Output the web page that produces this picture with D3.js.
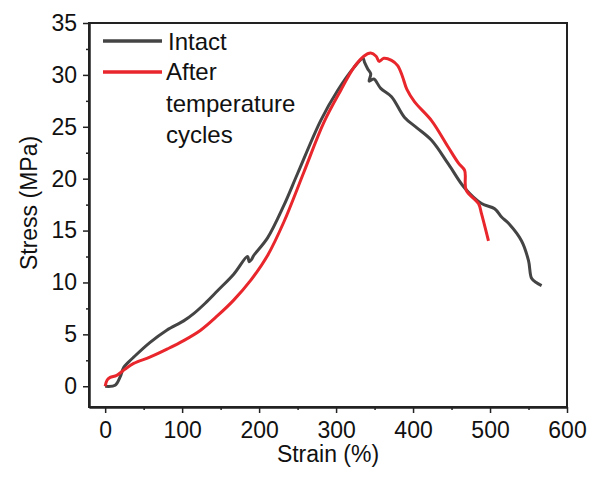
<!DOCTYPE html>
<html>
<head>
<meta charset="utf-8">
<script src="https://cdn.jsdelivr.net/npm/d3@7"></script>
<style>
  body { margin: 0; background: #fff; }
  text { font-family: "Liberation Sans", Arial, sans-serif; fill: #111; }
</style>
</head>
<body>
<div id="chart"></div>
<script>
// stress-strain data
var intactStrain = [0, 13, 19.5, 24, 30, 37, 58, 80, 102, 115, 130, 146, 167, 185, 187, 190, 193, 211, 232, 250, 280, 302, 323, 335,
    337, 341, 345, 343, 349, 358, 372, 389, 405, 424, 446, 467, 489, 506, 515, 524, 541, 550, 554, 560, 567];
var intactStress = [0, 0.1, 0.9, 1.8, 2.3, 2.8, 4.2, 5.4, 6.3, 7, 8, 9.2, 10.8, 12.5, 12, 12.2, 12.6, 14.3, 17.4, 20.5, 25.6, 28.5, 30.7, 31.6,
    31.2, 30.6, 30.1, 29.4, 29.6, 28.7, 27.9, 25.9, 24.9, 23.7, 21.4, 19.1, 17.6, 17.1, 16.3, 15.7, 14, 12.1, 10.4, 10, 9.7];

var afterStrain = [0, 2.6, 6.5, 15, 25, 37, 58, 81, 102, 124, 146, 167, 189, 211, 232, 258, 284, 306, 323, 336, 345, 352, 356, 362, 372,
    380, 386, 392, 402, 424, 446, 459, 467, 469, 485, 489, 498];
var afterStress = [0, 0.6, 0.85, 1.05, 1.6, 2.2, 2.8, 3.6, 4.4, 5.4, 6.8, 8.3, 10.2, 12.6, 15.8, 20.6, 25.4, 28.5, 30.7, 31.8, 32.1, 31.8, 31.3, 31.6, 31.4,
    30.9, 29.9, 28.6, 27.4, 25.6, 23, 21.5, 20.8, 18.9, 17.6, 16.6, 14.0];

var xTicks = [0, 100, 200, 300, 400, 500, 600];
var xMinor = [50, 150, 250, 350, 450, 550];
var yTicks = [0, 5, 10, 15, 20, 25, 30, 35];
var yMinor = [2.5, 7.5, 12.5, 17.5, 22.5, 27.5, 32.5];

var seriesNames = ["Intact", "After", "temperature", "cycles"];
var colors = ["#444444", "#e8262b"];

var svgWidth = 592, svgHeight = 477;
var margin = {top: 23, right: 25, bottom: 70, left: 89};
var width = svgWidth - margin.left - margin.right;
var height = svgHeight - margin.top - margin.bottom;

var svg = d3.select("#chart").append("svg")
    .attr("width", svgWidth)
    .attr("height", svgHeight);

var chartGroup = svg.append("g")
    .attr("transform", `translate(${margin.left}, ${margin.top})`);

var x = d3.scaleLinear().domain([-21, 600]).range([0, width]);
var y = d3.scaleLinear().domain([-2, 35]).range([height, 0]);

// frame
chartGroup.append("rect")
    .attr("width", width).attr("height", height)
    .attr("fill", "none").attr("stroke", "#222").attr("stroke-width", 2);

// axes
chartGroup.append("g").attr("transform", `translate(0, ${height})`)
    .call(d3.axisBottom(x).tickValues(xTicks).tickSize(6).tickPadding(9).tickSizeOuter(0));
chartGroup.append("g").attr("transform", `translate(0, ${height})`)
    .call(d3.axisBottom(x).tickValues(xMinor).tickSize(3).tickFormat("").tickSizeOuter(0));
chartGroup.append("g")
    .call(d3.axisLeft(y).tickValues(yTicks).tickSize(6).tickPadding(6).tickSizeOuter(0));
chartGroup.append("g")
    .call(d3.axisLeft(y).tickValues(yMinor).tickSize(3).tickFormat("").tickSizeOuter(0));

chartGroup.selectAll(".domain").attr("stroke", "#222").attr("stroke-width", 2);
chartGroup.selectAll(".tick line").attr("stroke", "#222").attr("stroke-width", 1.5);
chartGroup.selectAll(".tick text").style("font-size", "23px").attr("fill", "#111");

// curves
var line = d3.line()
    .curve(d3.curveCatmullRom.alpha(0.5))
    .x(d => x(d[0]))
    .y(d => y(d[1]));

var intact = intactStrain.map((s, i) => [s, intactStress[i]]);
var after = afterStrain.map((s, i) => [s, afterStress[i]]);

chartGroup.append("path").datum(intact)
    .attr("d", line).attr("fill", "none")
    .attr("stroke", colors[0]).attr("stroke-width", 3).attr("stroke-linejoin", "round");
chartGroup.append("path").datum(after)
    .attr("d", line).attr("fill", "none")
    .attr("stroke", colors[1]).attr("stroke-width", 3).attr("stroke-linejoin", "round");

// legend
var legend = svg.append("g");
legend.append("line").attr("x1", 103).attr("x2", 162).attr("y1", 41).attr("y2", 41)
    .attr("stroke", colors[0]).attr("stroke-width", 3.5);
legend.append("line").attr("x1", 103).attr("x2", 162).attr("y1", 72).attr("y2", 72)
    .attr("stroke", colors[1]).attr("stroke-width", 3.5);
legend.append("text").attr("x", 168).attr("y", 50).style("font-size", "24px").text(seriesNames[0]);
legend.append("text").attr("x", 166).attr("y", 80).style("font-size", "24px").text(seriesNames[1]);
legend.append("text").attr("x", 166).attr("y", 112).style("font-size", "24px").text(seriesNames[2]);
legend.append("text").attr("x", 166).attr("y", 143).style("font-size", "24px").text(seriesNames[3]);

// axis titles
svg.append("text")
    .attr("transform", "translate(37, 203) rotate(-90)")
    .attr("text-anchor", "middle")
    .style("font-size", "23px")
    .text("Stress (MPa)");

svg.append("text")
    .attr("x", 328).attr("y", 462)
    .attr("text-anchor", "middle")
    .style("font-size", "23px")
    .text("Strain (%)");
</script>
</body>
</html>
